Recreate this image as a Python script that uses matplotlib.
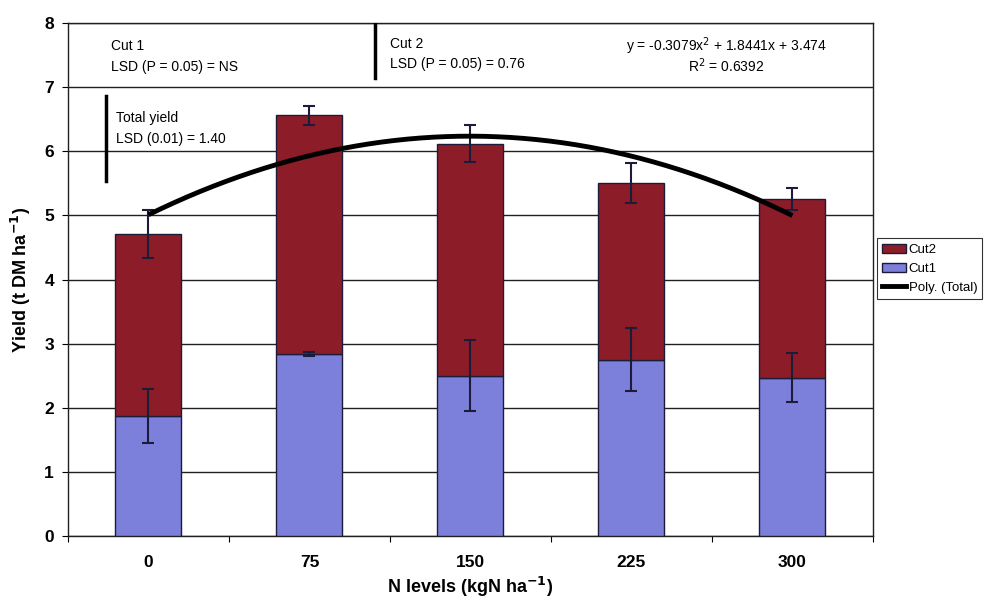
import numpy as np
import matplotlib
matplotlib.use('Agg')
import matplotlib.pyplot as plt
from matplotlib.patches import Patch
from matplotlib.lines import Line2D

plt.rcParams['font.family'] = ['Liberation Sans', 'DejaVu Sans']

n_levels = ['0', '75', '150', '225', '300']
cut1 = [1.87, 2.84, 2.50, 2.75, 2.47]
cut2 = [2.84, 3.72, 3.62, 2.76, 2.79]
cut1_err = [0.42, 0.03, 0.55, 0.49, 0.38]
total_err = [0.37, 0.15, 0.29, 0.31, 0.17]
# trendline coefficients as printed on the chart (x = 1..5)
poly_coef = [-0.3079, 1.8441, 3.474]

cut2_color = '#8c1c28'
cut1_color = '#7d80da'
edge = '#1c1c3a'

fig = plt.figure(figsize=(9.92, 6.02), dpi=100)
ax = fig.add_axes([0.0685, 0.1096, 0.8115, 0.8522])

pos = np.arange(len(n_levels)) + 0.5
total = np.array(cut1) + np.array(cut2)
w = 0.41

ax.bar(pos, cut1, w, color=cut1_color, edgecolor=edge, linewidth=1, zorder=3)
ax.bar(pos, cut2, w, bottom=cut1, color=cut2_color, edgecolor=edge,
       linewidth=1, zorder=3)
ax.errorbar(pos, cut1, yerr=cut1_err, fmt='none', ecolor=edge,
            elinewidth=1.5, capsize=4, capthick=1.5, zorder=4)
ax.errorbar(pos, total, yerr=total_err, fmt='none', ecolor=edge,
            elinewidth=1.5, capsize=4, capthick=1.5, zorder=4)

xs = np.linspace(1, 5, 200)
ax.plot(xs - 0.5, np.polyval(poly_coef, xs), color='black', lw=3.5,
        zorder=5, solid_capstyle='butt')

ax.set_xlim(0, 5)
ax.set_ylim(0, 8)
ax.set_yticks(range(9))
ax.set_xticks(range(6))
ax.set_xticklabels([])
ax.set_xticks(pos, minor=True)
ax.set_xticklabels(n_levels, minor=True)
ax.tick_params(axis='x', which='minor', length=0, pad=14)
ax.tick_params(axis='x', which='major', length=4, direction='out')
ax.tick_params(axis='y', length=4, direction='out', pad=6)
for lab in ax.get_yticklabels() + ax.get_xticklabels(minor=True):
    lab.set_fontsize(12.5)
    lab.set_fontweight('bold')
ax.yaxis.grid(True, color='#202020', lw=1, zorder=0)
ax.set_axisbelow(True)
for s in ax.spines.values():
    s.set_color('#202020')
    s.set_linewidth(1)

ax.set_ylabel('Yield (t DM ha$^{\\mathbf{-1}}$)', fontsize=13,
              fontweight='bold', labelpad=8)
ax.set_xlabel('N levels (kgN ha$^{\\mathbf{-1}}$)', fontsize=13,
              fontweight='bold', labelpad=3)

fs = 10
ax.text(0.27, 7.64, 'Cut 1', fontsize=fs, va='center')
ax.text(0.27, 7.31, 'LSD (P = 0.05) = NS', fontsize=fs, va='center')
ax.plot([1.91, 1.91], [7.98, 7.15], color='black', lw=2.5, zorder=5)
ax.text(2.0, 7.67, 'Cut 2', fontsize=fs, va='center')
ax.text(2.0, 7.36, 'LSD (P = 0.05) = 0.76', fontsize=fs, va='center')
ax.text(4.09, 7.64, 'y = -0.3079x$^2$ + 1.8441x + 3.474', fontsize=fs,
        va='center', ha='center')
ax.text(4.09, 7.33, 'R$^2$ = 0.6392', fontsize=fs, va='center', ha='center')
ax.text(0.30, 6.52, 'Total yield', fontsize=fs, va='center')
ax.text(0.30, 6.19, 'LSD (0.01) = 1.40', fontsize=fs, va='center')
ax.plot([0.235, 0.235], [6.86, 5.53], color='black', lw=2.5, zorder=5)

handles = [Patch(facecolor=cut2_color, edgecolor=edge),
           Patch(facecolor=cut1_color, edgecolor=edge),
           Line2D([], [], color='black', lw=3.5)]
leg = fig.legend(handles, ['Cut2', 'Cut1', 'Poly. (Total)'],
                 loc='upper left', bbox_to_anchor=(0.884, 0.604),
                 fontsize=9.5, frameon=True, fancybox=False,
                 handlelength=1.8, handletextpad=0.2, borderpad=0.4,
                 labelspacing=0.5, borderaxespad=0)
leg.get_frame().set_edgecolor('black')
leg.get_frame().set_linewidth(0.8)

fig.savefig('out.png', dpi=100)
